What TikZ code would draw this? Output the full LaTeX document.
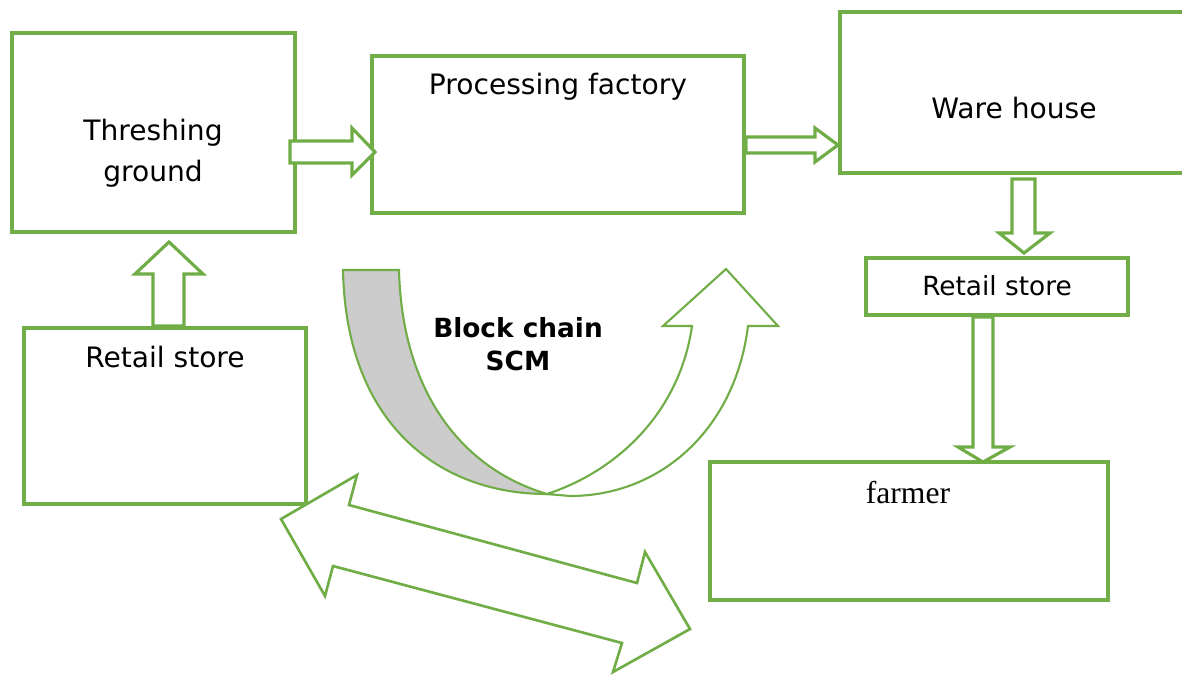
\documentclass[tikz,border=0pt]{standalone}
\usepackage{fontspec}
\setmainfont{DejaVu Sans}
\newfontfamily\farmerfont{Liberation Serif}
\usetikzlibrary{fit}
\definecolor{leaf}{HTML}{70AD47}

\begin{document}
\begin{tikzpicture}[
  x=0.02cm, y=-0.02cm,
  box/.style={draw=leaf, line width=1.9pt, inner sep=0pt},
  blockarr/.style={draw=leaf, line width=1.8pt, fill=white, line join=miter},
  turnarr/.style={draw=leaf, line width=1.2pt},
  lbl/.style={font=\fontsize{16}{23.2}\selectfont, anchor=base, align=center, inner sep=0pt},
  boldlbl/.style={font=\bfseries\fontsize{15}{18.7}\selectfont, anchor=base, align=center, inner sep=0pt}
]
\useasboundingbox (0,0) rectangle (1182,674);

\node[box, fit={(12,33) (295,232)}] (thresh) {};
\node[box, fit={(372,56) (744,213)}] (factory) {};
\node[box, fit={(840,12) (1200,173)}] (ware) {};
\node[box, fit={(866,258) (1128,315)}] (retailR) {};
\node[box, fit={(24,328) (306,504)}] (retailL) {};
\node[box, fit={(710,462) (1108,600)}] (farmer) {};

\node[lbl] (threshLbl) at (153,181) {Threshing\\ground};
\node[lbl] (factoryLbl) at (558,94) {Processing factory};
\node[lbl] (wareLbl) at (1014,118) {Ware house};
\node[lbl, font=\fontsize{15}{18}\selectfont] (retailRLbl) at (997,295) {Retail store};
\node[lbl] (retailLLbl) at (165,367) {Retail store};
\node[lbl, font=\farmerfont\fontsize{18}{22}\selectfont] (farmerLbl) at (908,503) {farmer};
\node[boldlbl] (scmLbl) at (518,370) {Block chain\\SCM};

\draw[blockarr] (290,141) -- (352,141) -- (352,128) -- (375,152) -- (352,175) -- (352,163) -- (290,163) -- cycle;
\draw[blockarr] (746,137) -- (815,137) -- (815,128) -- (838,145) -- (815,162) -- (815,153) -- (746,153) -- cycle;
\draw[blockarr] (1012,179) -- (1035,179) -- (1035,233) -- (1050,233) -- (1024,253) -- (999,233) -- (1012,233) -- cycle;
\draw[blockarr] (973,317) -- (993,317) -- (993,447) -- (1010,447) -- (983,462) -- (958,447) -- (973,447) -- cycle;
\draw[blockarr] (153,326) -- (153,274) -- (135,274) -- (169,242) -- (203,274) -- (184,274) -- (184,326) -- cycle;

\draw[turnarr, fill=gray!40] (343,270) .. controls (346,425) and (440,494) .. (547,494)
  .. controls (460,468) and (402,390) .. (399,270) -- cycle;
\draw[turnarr, fill=white] (547,494) .. controls (620,470) and (680,410) .. (692,326)
  -- (663,326) -- (726,269) -- (778,326) -- (748,326)
  .. controls (735,430) and (660,496) .. (570,496) -- cycle;

\draw[turnarr, line width=1.5pt, fill=white] (281,519) -- (357,475) -- (349,505) -- (637,583) -- (645,552)
  -- (690,629) -- (613,672) -- (622,643) -- (333,566) -- (325,596) -- cycle;
\end{tikzpicture}
\end{document}
